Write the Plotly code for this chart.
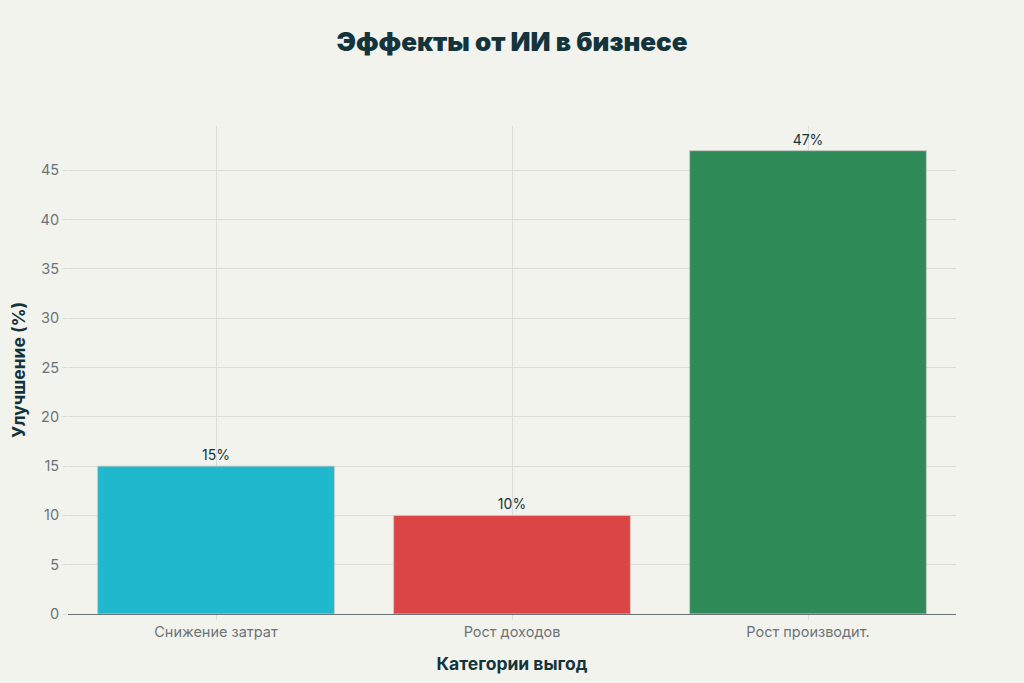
import plotly.graph_objects as go

categories = ["Снижение затрат", "Рост доходов", "Рост производит."]
values = [15, 10, 47]
labels = ["15%", "10%", "47%"]
colors = ["#1FB8CD", "#DB4545", "#2E8B57"]

fig = go.Figure()
fig.add_trace(go.Bar(
    x=categories,
    y=values,
    text=labels,
    textposition="outside",
    cliponaxis=False,
    marker=dict(color=colors, line=dict(color="#C8C8C4", width=1)),
    textfont=dict(size=14, color="#13343B", family="Inter"),
    width=0.8,
))

fig.update_layout(
    title=dict(text="Эффекты от ИИ в бизнесе", x=0.5, y=0.938, xanchor="center", yanchor="middle",
               font=dict(size=26, color="#13343B", family="Inter", weight=900)),
    paper_bgcolor="#F3F3EE",
    plot_bgcolor="#F3F3EE",
    font=dict(family="Inter", color="#6B7378", size=14),
    width=1024, height=683,
    margin=dict(l=68, r=68, t=126, b=69),
    showlegend=False,
)
fig.update_xaxes(
    title=dict(text="<b>Категории выгод</b>", font=dict(size=17.5, color="#13343B"), standoff=18),
    showgrid=True, gridcolor="#DCDCD8",
    showline=True, linecolor="#6B7378", linewidth=1,
    ticks="outside", ticklen=5, tickcolor="#DCDCD8",
    tickfont=dict(size=14.5, color="#6B7378"),
)
fig.update_yaxes(
    title=dict(text="<b>Улучшение (%)</b>", font=dict(size=17.5, color="#13343B"), standoff=10),
    range=[0, 49.5], dtick=5,
    showgrid=True, gridcolor="#DCDCD8",
    ticks="outside", ticklen=5, tickcolor="#DCDCD8",
    zeroline=False,
    tickfont=dict(size=14.5, color="#6B7378"),
)

# drop the browser's default page margin so the figure fills the window
fig.write_html("out.html", config={"displayModeBar": False},
               post_script="document.body.style.margin='0';")
